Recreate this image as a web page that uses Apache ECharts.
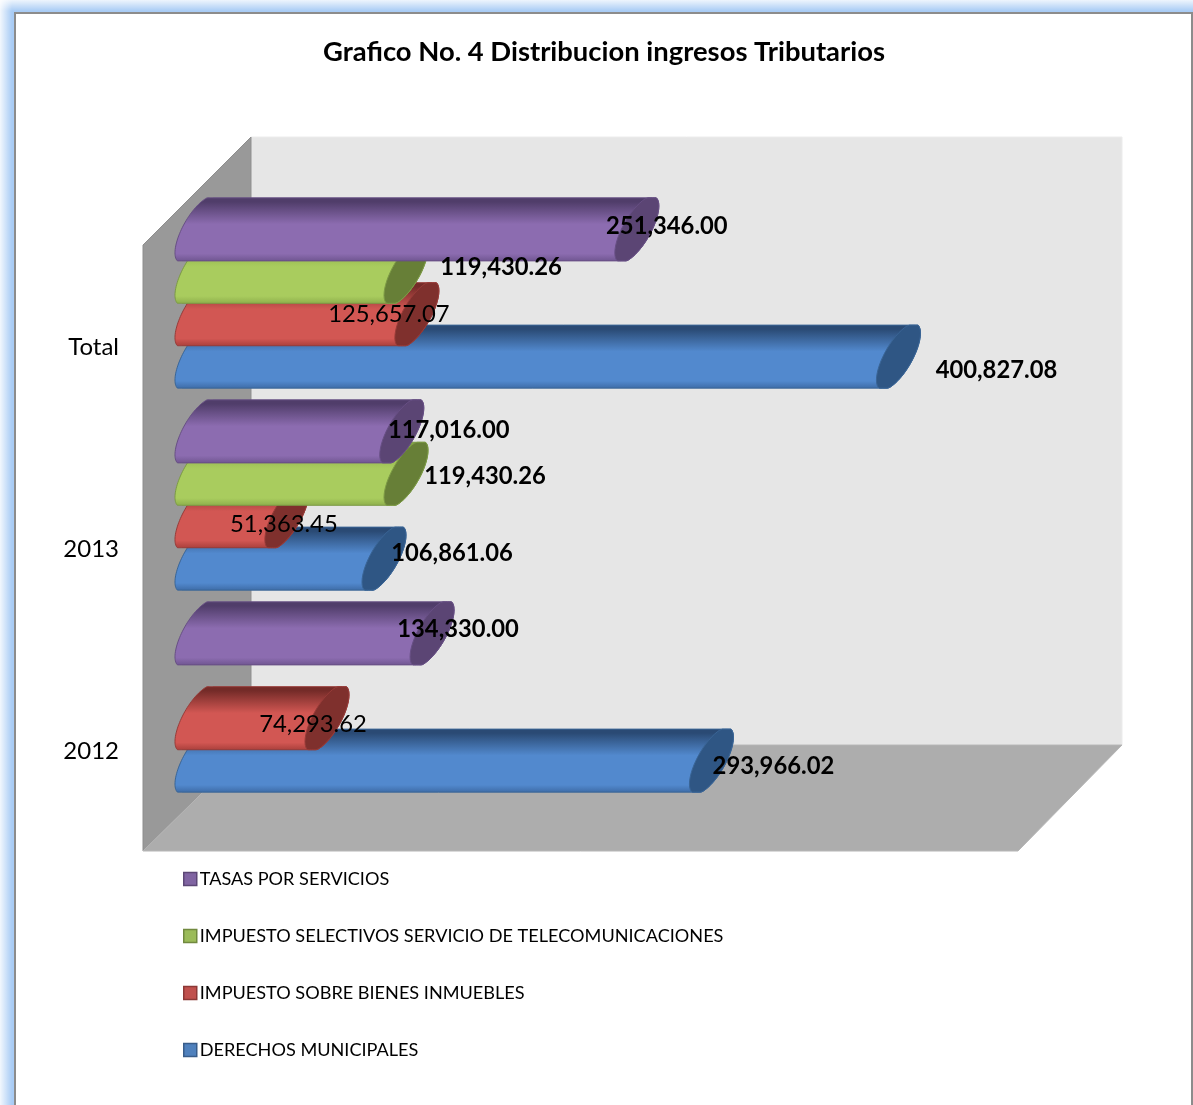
<!DOCTYPE html>
<html>
<head>
<meta charset="utf-8">
<title>Distribucion ingresos Tributarios</title>
<style>
  html, body { margin: 0; padding: 0; background: #fff; overflow: hidden; }
  #chart { width: 1193px; height: 1105px; }
</style>
<script src="https://cdn.jsdelivr.net/npm/echarts@6/dist/echarts.min.js"></script>
</head>
<body>
<div id="chart"></div>
<script>
// Categories, bottom to top along the axis
const categories = ['2012', '2013', 'Total'];

// Series values per category; null means no bar and no label
const derechosMunicipales = [293966.02, 106861.06, 400827.08];
const impuestoBienes = [74293.62, 51363.45, 125657.07];
const impuestoTelecom = [null, 119430.26, 119430.26];
const tasasServicios = [134330.00, 117016.00, 251346.00];

const titleText = 'Grafico No. 4 Distribucion ingresos Tributarios';
const FONT = 'Lato, "Open Sans", sans-serif';

// Layout of the 3D box: front plane, plane through the middle of the bars, back wall
const frontPlane = { left: 143, top: 245, width: 875, height: 606 };
const midPlane = { left: 197, top: 192, width: 875, height: 606 };
const backPlane = { left: 251, top: 137, width: 871, height: 608 };

// Bar thickness and spacing as fractions of the category band
const SLOT_RATIO = 0.21;
const RADIUS_RATIO = 0.109;
const HEIGHT_RATIO = 0.116;
const HALF_HEIGHT_RATIO = 0.156;

const seriesDefs = [
  { name: 'DERECHOS MUNICIPALES', values: derechosMunicipales, bold: true,
    dark: '#2a4a74', main: '#5289ce', low: '#3d6ba6', cap: '#2f5684', edge: '#3a6596',
    nudges: [[62, 5.5], [68, -5.5], [98, 14]] },
  { name: 'IMPUESTO SOBRE BIENES INMUEBLES', values: impuestoBienes, bold: false,
    dark: '#742b28', main: '#d25753', low: '#a93f3b', cap: '#7f302d', edge: '#973b38',
    nudges: [[-14, 6], [-3, 8.5], [-28, 0]] },
  { name: 'IMPUESTO SELECTIVOS SERVICIO DE TELECOMUNICACIONES', values: impuestoTelecom, bold: true,
    dark: '#83a544', main: '#a9cc5e', low: '#8dae4b', cap: '#677f37', edge: '#7c9a45',
    nudges: [[0, 0], [79, 2.5], [95, -4]] },
  { name: 'TASAS POR SERVICIOS', values: tasasServicios, bold: true,
    dark: '#503d6a', main: '#8c6cb0', low: '#6f5590', cap: '#5b4574', edge: '#674f84',
    nudges: [[26, -4.5], [47, -1.5], [30, -3.5]] }
];

const legendSwatches = {
  'DERECHOS MUNICIPALES': ['#4f81bd', '#385d8a'],
  'IMPUESTO SOBRE BIENES INMUEBLES': ['#c0504d', '#8c3836'],
  'IMPUESTO SELECTIVOS SERVICIO DE TELECOMUNICACIONES': ['#9bbb59', '#71893f'],
  'TASAS POR SERVICIOS': ['#8064a2', '#5c4776']
};

const fmt = v => v.toLocaleString('en-US', { minimumFractionDigits: 2, maximumFractionDigits: 2 });

// Section of a cylinder in oblique projection, blunted where it meets its top and bottom edges
function sectionPoint(cx, cy, band, deg) {
  const t = deg * Math.PI / 180;
  const rx = band * RADIUS_RATIO;
  const ry = band * HEIGHT_RATIO;
  const limit = band * HALF_HEIGHT_RATIO;
  const dy = ry * (Math.cos(t) - Math.sin(t));
  return [cx + rx * Math.sin(t), cy + Math.max(-limit, Math.min(limit, dy))];
}
function arc(cx, cy, band, from, to) {
  const pts = [];
  const steps = 48;
  for (let i = 0; i <= steps; i++) pts.push(sectionPoint(cx, cy, band, from + (to - from) * i / steps));
  return pts;
}

// One horizontal cylinder: body with a left rounded end, darker end cap, value text above
function cylinderItem(def, seriesIdx) {
  return function (params, api) {
    const value = api.value(1);
    const catIdx = api.value(0);
    if (value == null || isNaN(value)) return null;
    const band = api.size([0, 1])[1];
    const slot = band * SLOT_RATIO;
    const end = api.coord([value, catIdx]);
    const start = api.coord([0, catIdx]);
    const cy = end[1] - (seriesIdx - 1.5) * slot;
    const leftArc = arc(start[0], cy, band, 135, 315);
    const rightArc = arc(end[0], cy, band, 315, 495);
    const body = leftArc.concat(rightArc);
    const capPts = arc(end[0], cy, band, 0, 360);
    const nudge = def.nudges[catIdx];
    return {
      type: 'group',
      children: [
        {
          type: 'polygon',
          shape: { points: body },
          style: {
            fill: {
              type: 'linear', x: 0, y: 0, x2: 0, y2: 1,
              colorStops: [
                { offset: 0, color: def.dark },
                { offset: 0.07, color: def.dark },
                { offset: 0.42, color: def.main },
                { offset: 0.88, color: def.main },
                { offset: 1, color: def.low }
              ]
            },
            stroke: def.edge,
            lineWidth: 1
          }
        },
        {
          type: 'polygon',
          shape: { points: capPts },
          style: { fill: def.cap, stroke: def.edge, lineWidth: 1 }
        },
        {
          type: 'text',
          z2: 100,
          style: {
            x: end[0] + nudge[0],
            y: cy + nudge[1],
            text: fmt(value),
            align: 'center',
            verticalAlign: 'middle',
            fill: '#000',
            font: (def.bold ? 'bold ' : '') + '23.8px ' + FONT
          }
        }
      ]
    };
  };
}

// Back wall, side wall and floor of the box
function wallsItem() {
  const f = frontPlane, b = backPlane;
  const fr = f.left + f.width, fb = f.top + f.height;
  const br = b.left + b.width, bb = b.top + b.height;
  return {
    type: 'group',
    children: [
      { type: 'rect', shape: { x: b.left, y: b.top, width: b.width, height: b.height },
        style: { fill: '#e6e6e6', stroke: '#ececec', lineWidth: 1 } },
      { type: 'polygon', shape: { points: [[f.left, f.top], [b.left, b.top], [b.left, bb], [f.left, fb]] },
        style: { fill: '#999999', stroke: '#8e8e8e', lineWidth: 1 } },
      { type: 'polygon', shape: { points: [[f.left, fb], [b.left, bb], [br, bb], [fr, fb]] },
        style: { fill: '#adadad', stroke: '#b6b6b6', lineWidth: 1 } }
    ]
  };
}

const chart = echarts.init(document.getElementById('chart'), null, { renderer: 'canvas' });

const cylinderSeries = seriesDefs.map((def, i) => ({
  type: 'custom',
  name: def.name,
  xAxisIndex: 1,
  yAxisIndex: 1,
  z: 3,
  silent: true,
  itemStyle: { color: def.main },
  encode: { x: 1, y: 0 },
  data: categories.map((c, k) => [k, def.values[k]]),
  renderItem: cylinderItem(def, i)
}));

// Soft outer edge of the page frame: white fading into the blue band
const fadeWhite = (x2, y2, from) => ({
  type: 'linear', x: 0, y: 0, x2, y2,
  colorStops: [
    { offset: 0, color: 'rgba(255,255,255,' + from + ')' },
    { offset: 1, color: 'rgba(255,255,255,0)' }
  ]
});

chart.setOption({
  animation: false,
  backgroundColor: '#ffffff',
  tooltip: { show: false },
  title: {
    text: titleText,
    left: 599,
    top: 34,
    textAlign: 'center',
    textStyle: { fontFamily: FONT, fontWeight: 'bold', fontSize: 27.4, color: '#000' }
  },
  legend: {
    orient: 'vertical',
    left: 178,
    top: 865,
    icon: 'rect',
    itemWidth: 13,
    itemHeight: 13,
    itemGap: 39,
    selectedMode: false,
    textStyle: { fontFamily: FONT, fontSize: 18.12, color: '#000', padding: [0, 0, 0, -2] },
    data: seriesDefs.slice().reverse().map(d => ({
      name: d.name,
      itemStyle: { color: legendSwatches[d.name][0], borderColor: legendSwatches[d.name][1], borderWidth: 1.5 }
    }))
  },
  graphic: [
    { type: 'rect', silent: true, z: 0,
      shape: { x: 0, y: 0, width: 1193, height: 1105 },
      style: { fill: '#a9ccf5' } },
    { type: 'rect', silent: true, z: 0,
      shape: { x: 0, y: 0, width: 1193, height: 11 },
      style: { fill: fadeWhite(0, 1, 0.8) } },
    { type: 'rect', silent: true, z: 0,
      shape: { x: 0, y: 0, width: 12, height: 1105 },
      style: { fill: fadeWhite(1, 0, 0.85) } },
    { type: 'rect', silent: true, z: 0,
      shape: { x: 15, y: 13, width: 1177, height: 1300 },
      style: { fill: '#ffffff', stroke: '#8c8c8c', lineWidth: 2 } }
  ],
  grid: [
    Object.assign({}, frontPlane),
    Object.assign({}, midPlane)
  ],
  xAxis: [
    { type: 'value', gridIndex: 0, min: 0, max: 500000, show: false },
    { type: 'value', gridIndex: 1, min: 0, max: 500000, show: false }
  ],
  yAxis: [
    {
      type: 'category', gridIndex: 0, data: categories,
      axisLine: { show: false }, axisTick: { show: false }, splitLine: { show: false },
      axisLabel: {
        margin: 24,
        formatter: '{cat|{value}}',
        rich: { cat: { fontFamily: FONT, fontSize: 24, color: '#000', padding: [3, 0, 0, 0] } }
      }
    },
    {
      type: 'category', gridIndex: 1, data: categories, show: false
    }
  ],
  series: [
    {
      type: 'custom',
      name: 'walls',
      xAxisIndex: 0,
      yAxisIndex: 0,
      z: 1,
      silent: true,
      encode: { x: 0, y: 1 },
      data: [[0, 0]],
      renderItem: wallsItem
    }
  ].concat(cylinderSeries)
});
</script>
</body>
</html>
